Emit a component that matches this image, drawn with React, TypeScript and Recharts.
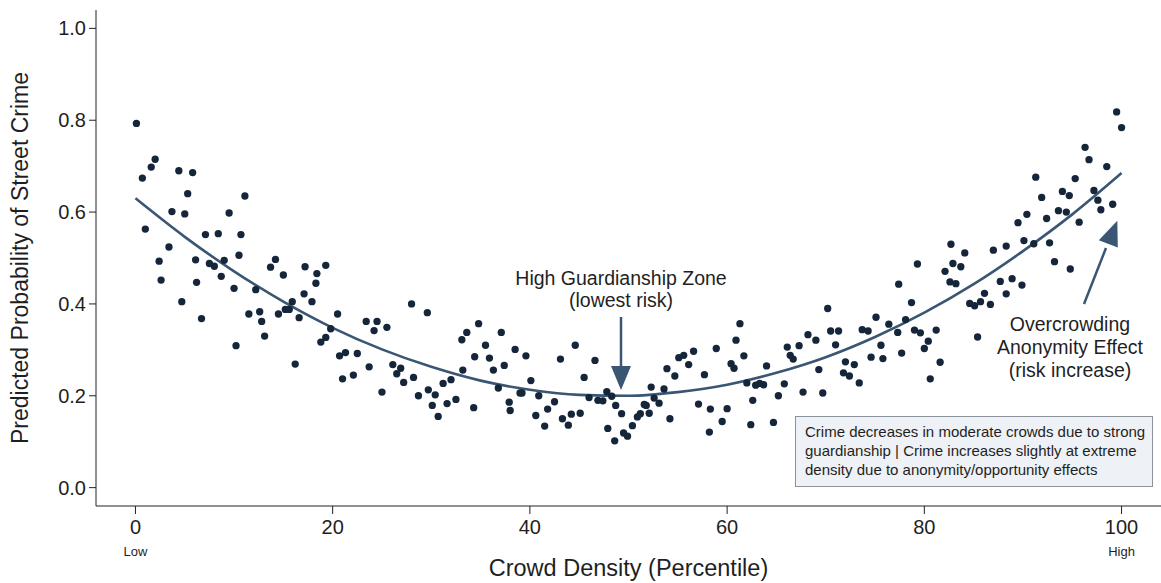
import { ComposedChart, Scatter, Line, XAxis, YAxis, ZAxis } from 'recharts'

// crowd density percentile (x) and predicted probability (y)
const densityX = [
  0.1, 0.7, 1.6, 2.0, 1.0, 3.7, 5.0, 4.4, 5.8, 5.3, 3.4, 2.4, 2.6, 4.7, 6.7, 6.1, 6.2, 7.1, 8.4, 7.5,
  8.0, 9.0, 8.7, 9.5, 11.1, 10.7, 10.5, 10.0, 10.2, 11.5, 12.2, 12.6, 12.8, 13.1, 13.7, 14.2, 15.0, 14.5, 15.2, 15.6,
  15.9, 16.6, 16.2, 17.2, 17.1, 17.9, 18.3, 18.4, 19.3, 20.5, 19.8, 19.3, 18.8, 20.7, 21.3, 22.5, 21.0, 22.1, 23.4, 23.7,
  24.5, 24.2, 25.5, 28.0, 29.6, 25.0, 26.1, 26.9, 26.5, 27.2, 28.2, 28.7, 29.7, 30.4, 30.1, 30.7, 31.6, 32.5, 31.2, 32.0,
  34.3, 33.2, 33.1, 33.6, 34.8, 34.4, 35.5, 35.9, 37.1, 36.3, 37.4, 36.8, 37.9, 38.0, 38.5, 39.6, 39.0, 39.2, 40.1, 40.9,
  40.6, 41.8, 41.5, 42.5, 43.3, 43.9, 44.2, 45.1, 43.1, 44.6, 45.5, 46.6, 46.0, 46.9, 47.4, 47.8, 48.3, 48.7, 49.3, 47.9,
  48.6, 49.5, 49.9, 50.4, 50.9, 51.2, 51.6, 51.8, 52.1, 52.6, 52.3, 53.1, 53.6, 53.9, 54.7, 54.2, 55.1, 55.6, 56.1, 56.6,
  57.1, 57.7, 58.3, 58.2, 58.9, 59.5, 60.0, 60.4, 60.7, 60.9, 61.3, 61.7, 62.0, 62.4, 62.6, 62.9, 63.3, 63.7, 64.0, 64.7,
  65.2, 65.8, 66.1, 66.4, 66.7, 67.3, 67.7, 68.2, 69.0, 69.3, 69.7, 70.2, 70.5, 71.3, 71.0, 72.0, 72.9, 71.8, 72.4, 73.4,
  73.7, 74.3, 75.1, 75.6, 74.6, 75.8, 76.4, 77.4, 78.7, 79.3, 79.0, 77.7, 77.3, 99.5, 100.0, 96.3, 96.7, 98.5, 95.3, 91.3,
  91.9, 94.0, 94.7, 97.2, 97.6, 97.9, 99.1, 93.6, 94.4, 92.4, 95.7, 90.4, 89.5, 90.1, 91.1, 92.7, 93.2, 94.8, 88.3, 87.0,
  87.7, 88.9, 88.3, 89.9, 86.1, 85.7, 85.1, 84.6, 86.7, 85.4, 82.7, 84.1, 82.9, 83.7, 82.1, 82.6, 83.2, 78.1, 79.6, 81.2,
  80.4, 80.0, 81.6, 80.6,
]
const probY = [
  0.793, 0.674, 0.698, 0.715, 0.563, 0.601, 0.596, 0.690, 0.686, 0.640, 0.524, 0.493, 0.452, 0.405, 0.368, 0.496, 0.447, 0.551, 0.553, 0.488,
  0.482, 0.495, 0.460, 0.598, 0.635, 0.551, 0.506, 0.434, 0.309, 0.378, 0.431, 0.383, 0.362, 0.330, 0.480, 0.497, 0.463, 0.378, 0.388, 0.388,
  0.405, 0.370, 0.269, 0.481, 0.422, 0.405, 0.445, 0.466, 0.484, 0.378, 0.346, 0.327, 0.317, 0.287, 0.294, 0.292, 0.237, 0.245, 0.362, 0.263,
  0.362, 0.342, 0.349, 0.400, 0.381, 0.208, 0.268, 0.260, 0.248, 0.229, 0.240, 0.200, 0.213, 0.202, 0.179, 0.155, 0.183, 0.192, 0.227, 0.235,
  0.174, 0.256, 0.322, 0.338, 0.357, 0.285, 0.310, 0.282, 0.338, 0.256, 0.266, 0.217, 0.186, 0.168, 0.301, 0.287, 0.206, 0.206, 0.233, 0.200,
  0.157, 0.171, 0.134, 0.187, 0.150, 0.136, 0.160, 0.162, 0.280, 0.310, 0.240, 0.277, 0.196, 0.190, 0.189, 0.209, 0.199, 0.179, 0.161, 0.129,
  0.102, 0.119, 0.112, 0.135, 0.154, 0.161, 0.181, 0.179, 0.162, 0.195, 0.219, 0.184, 0.215, 0.259, 0.243, 0.150, 0.283, 0.288, 0.268, 0.297,
  0.182, 0.246, 0.171, 0.121, 0.303, 0.144, 0.172, 0.270, 0.260, 0.321, 0.357, 0.287, 0.228, 0.137, 0.190, 0.223, 0.227, 0.224, 0.265, 0.142,
  0.200, 0.226, 0.306, 0.288, 0.280, 0.309, 0.208, 0.333, 0.321, 0.257, 0.206, 0.390, 0.341, 0.341, 0.311, 0.274, 0.268, 0.250, 0.243, 0.228,
  0.344, 0.341, 0.371, 0.310, 0.284, 0.281, 0.356, 0.443, 0.403, 0.487, 0.343, 0.293, 0.338, 0.818, 0.784, 0.741, 0.714, 0.699, 0.673, 0.676,
  0.632, 0.645, 0.636, 0.647, 0.626, 0.605, 0.617, 0.603, 0.600, 0.586, 0.578, 0.595, 0.577, 0.538, 0.531, 0.533, 0.492, 0.476, 0.526, 0.517,
  0.449, 0.455, 0.422, 0.441, 0.423, 0.405, 0.396, 0.401, 0.399, 0.328, 0.530, 0.511, 0.488, 0.481, 0.471, 0.448, 0.444, 0.366, 0.337, 0.343,
  0.319, 0.303, 0.273, 0.237,
]

// fitted curve, read every 5 percentile points
const fitX = [0, 5, 10, 15, 20, 25, 30, 35, 40, 45, 50, 55, 60, 65, 70, 75, 80, 85, 90, 95, 100]
const fitY = [0.630, 0.546, 0.471, 0.405, 0.348, 0.301, 0.263, 0.233, 0.213, 0.202, 0.200, 0.208, 0.224, 0.250, 0.284, 0.328, 0.381, 0.443, 0.515, 0.595, 0.685]

const xTicks = [0, 20, 40, 60, 80, 100]
const yTicks = [0, 0.2, 0.4, 0.6, 0.8, 1.0]
const xEndLabels: Record<number, string> = { 0: 'Low', 100: 'High' }

const points = densityX.map((x, i) => ({ x, y: probY[i] }))
const fit = fitX.map((x, i) => ({ x, y: fitY[i] }))

const FONT = '"Liberation Sans", Arial, Helvetica, sans-serif'
const INK = '#1f1f1f'
const DOT = '#15253a'
const CURVE = '#3a5673'

function XTick({ x, y, payload }: any) {
  const sub = xEndLabels[payload.value]
  return (
    <g>
      <text x={x} y={y + 20} textAnchor="middle" fontSize={20} fill={INK} fontFamily={FONT}>{payload.value}</text>
      {sub && <text x={x} y={y + 42} textAnchor="middle" fontSize={13} fill={INK} fontFamily={FONT}>{sub}</text>}
    </g>
  )
}

export default function App() {
  return (
    <div style={{ position: 'absolute', left: 0, top: 0, width: 1161, height: 583, background: '#fff', fontFamily: FONT }}>
      <ComposedChart width={1161} height={583} margin={{ top: 10, right: 0, bottom: 0, left: 0 }}>
        <XAxis
          dataKey="x" type="number" domain={[-4, 104]} ticks={xTicks} allowDataOverflow
          stroke="#222" tickSize={8} tickMargin={0} tick={<XTick />} height={77}
          label={{ value: 'Crowd Density (Percentile)', position: 'insideBottom', offset: 7, fontSize: 23.5, fill: INK, fontFamily: FONT }}
        />
        <YAxis
          dataKey="y" type="number" domain={[-0.04, 1.04]} ticks={yTicks} allowDataOverflow width={96}
          stroke="#222" tickSize={7} tickMargin={3} tickFormatter={(v: number) => v.toFixed(1)}
          tick={{ fontSize: 20, fill: INK, fontFamily: FONT }}
          label={{ value: 'Predicted Probability of Street Crime', angle: -90, position: 'insideLeft', offset: 20, fontSize: 23, fill: INK, fontFamily: FONT, style: { textAnchor: 'middle' } }}
        />
        <ZAxis range={[42, 42]} />
        <Scatter data={points} fill={DOT} isAnimationActive={false} />
        <Line data={fit} dataKey="y" type="monotone" stroke={CURVE} strokeWidth={2.6} dot={false} activeDot={false} isAnimationActive={false} />
      </ComposedChart>

      <svg width={1161} height={583} style={{ position: 'absolute', left: 0, top: 0, pointerEvents: 'none' }}>
        <g fontFamily={FONT} fill={INK} fontSize={19.5} textAnchor="middle">
          <text x={621} y={285}>High Guardianship Zone</text>
          <text x={621} y={307}>(lowest risk)</text>
          <text x={1070} y={331}>Overcrowding</text>
          <text x={1070} y={354}>Anonymity Effect</text>
          <text x={1070} y={377}>(risk increase)</text>
        </g>
        <line x1={621} y1={317} x2={621} y2={368} stroke={CURVE} strokeWidth={2.5} />
        <polygon points="611,366 631,366 621,390" fill={CURVE} />
        <line x1={1084} y1={304} x2={1106} y2={248} stroke={CURVE} strokeWidth={2.5} />
        <polygon points="1117.3,220.7 1117.8,247.6 1098.8,240.2" fill={CURVE} />
        <rect x={795.5} y={416.5} width={357} height={70} fill="#eef1f5" stroke="#8d939b" strokeWidth={1} />
        <g fontFamily={FONT} fill={INK} fontSize={15}>
          <text x={805} y={437}>Crime decreases in moderate crowds due to strong</text>
          <text x={805} y={456}>guardianship | Crime increases slightly at extreme</text>
          <text x={805} y={475}>density due to anonymity/opportunity effects</text>
        </g>
      </svg>
    </div>
  )
}
